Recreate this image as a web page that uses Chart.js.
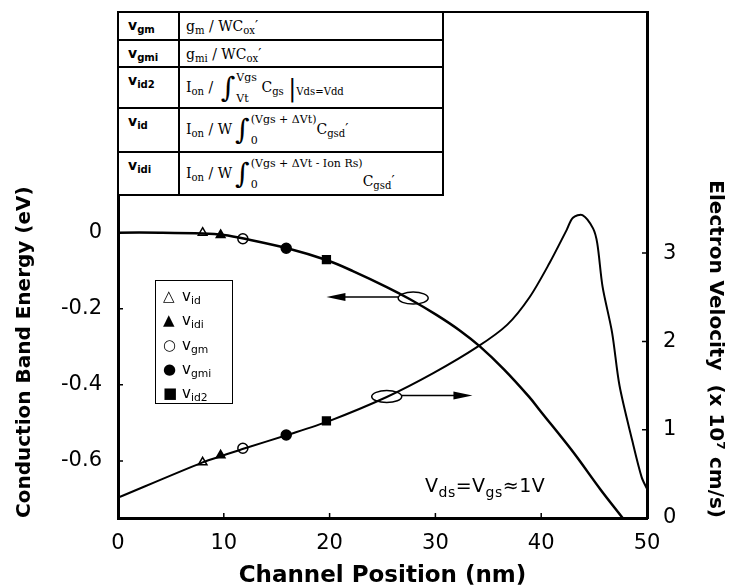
<!DOCTYPE html>
<html>
<head>
<meta charset="utf-8">
<title>Conduction band energy and electron velocity</title>
<script src="https://cdn.jsdelivr.net/npm/chart.js@4.4.1/dist/chart.umd.min.js"></script>
<style>
  html, body { margin: 0; padding: 0; background: #fff; }
  #wrap { position: relative; width: 733px; height: 588px; overflow: hidden; }
  #wrap canvas { position: absolute; left: 0; top: 0; }

  #defs {
    position: absolute; left: 117px; top: 11px; width: 327px;
    border-collapse: collapse; table-layout: fixed; background: #fff;
  }
  #defs td { border: 2px solid #000; padding: 0; overflow: hidden; }
  #defs td.k { width: 50px; font: 600 14px "DejaVu Sans", sans-serif; vertical-align: top; padding: 4px 0 0 9px; }
  #defs td.f { font: 14px "DejaVu Serif", serif; padding-left: 6px; white-space: nowrap; }
  sub { font-size: 72%; vertical-align: -0.3em; line-height: 0; }
  .int { font: 28px "DejaVu Serif", serif; vertical-align: middle; line-height: 1; margin: 0 1px 0 3px; }
  .lim { display: inline-flex; flex-direction: column; justify-content: space-between;
         vertical-align: middle; height: 32px; font-size: 11px; line-height: 1; }
  .bar { font-size: 24px; vertical-align: middle; line-height: 1; }

  #legend {
    position: absolute; left: 155px; top: 280px; width: 78px; height: 124px;
    box-sizing: border-box; border: 1.5px solid #000; background: #fff;
    font: 15px "DejaVu Sans", sans-serif; padding: 3px 0 0 7px;
  }
  #legend div { height: 24.3px; line-height: 24px; white-space: nowrap; }
  #legend .sym { display: inline-block; width: 19px; font-size: 15px; }

  #cond { position: absolute; left: 425px; top: 476px; font: 19px "DejaVu Sans", sans-serif; line-height: 19px; white-space: nowrap; letter-spacing: 0.5px; }
  #cond sub { font-size: 14px; vertical-align: -5px; }
</style>
</head>
<body>
<div id="wrap">
  <canvas id="bandChart" width="733" height="588"></canvas>

  <table id="defs">
    <tr style="height:28px"><td class="k">v<sub>gm</sub></td><td class="f">g<sub>m</sub> / WC<sub>ox</sub>′</td></tr>
    <tr style="height:27px"><td class="k">v<sub>gmi</sub></td><td class="f">g<sub>mi</sub> / WC<sub>ox</sub>′</td></tr>
    <tr style="height:41px"><td class="k">v<sub>id2</sub></td>
      <td class="f">I<sub>on</sub> / <span class="int">∫</span><span class="lim"><span>Vgs</span><span>Vt</span></span>&nbsp;C<sub>gs</sub> <span class="bar">|</span><sub>Vds=Vdd</sub></td></tr>
    <tr style="height:44px"><td class="k">v<sub>id</sub></td>
      <td class="f">I<sub>on</sub> / W<span class="int">∫</span><span class="lim"><span>(Vgs + ΔVt)</span><span>0</span></span>C<sub>gsd</sub>′</td></tr>
    <tr style="height:43px"><td class="k">v<sub>idi</sub></td>
      <td class="f">I<sub>on</sub> / W<span class="int">∫</span><span class="lim"><span>(Vgs + ΔVt - Ion Rs)</span><span>0</span></span><span style="vertical-align:-8px">C<sub>gsd</sub>′</span></td></tr>
  </table>

  <div id="legend">
    <div><span class="sym">△</span>v<sub>id</sub></div>
    <div><span class="sym">▲</span>v<sub>idi</sub></div>
    <div><span class="sym">○</span>v<sub>gm</sub></div>
    <div><span class="sym">●</span>v<sub>gmi</sub></div>
    <div><span class="sym">■</span>v<sub>id2</sub></div>
  </div>

  <div id="cond">V<sub>ds</sub>=V<sub>gs</sub>≈1V</div>
</div>

<script>
// Conduction band energy (left axis) and electron velocity (right axis)
// along the channel.

// ---------- Data ----------

const positionEnergy = [0, 4, 8, 10, 12, 16, 19.7, 22.2, 25.4, 27.6, 30.1, 32.3, 34.2, 36.5, 38.9, 39.9, 43, 45.6, 47.7];
const energy = [0, 0, -0.002, -0.006, -0.016, -0.041, -0.072, -0.101, -0.143, -0.175, -0.216, -0.257, -0.299, -0.36, -0.433, -0.468, -0.576, -0.675, -0.75];

const positionVelocity = [0, 8, 10, 12, 16, 20, 25.4, 29.8, 34, 36.8, 38.9, 40.8, 42.4, 43, 43.9, 44.9, 45.3, 45.8, 46.7, 47.4, 48.6, 49.5, 50];
const velocity = [0.23, 0.63, 0.71, 0.79, 0.94, 1.1, 1.37, 1.64, 1.94, 2.19, 2.5, 2.89, 3.26, 3.4, 3.43, 3.28, 3.11, 2.62, 2.1, 1.5, 0.88, 0.46, 0.33];

const markerNames = ["v_id", "v_idi", "v_gm", "v_gmi", "v_id2"];
const markerPosition = [8, 9.7, 11.8, 15.9, 19.7];
const markerEnergy = [0, -0.006, -0.016, -0.041, -0.071];
const markerVelocity = [0.63, 0.71, 0.79, 0.94, 1.1];

const positionTicks = [0, 10, 20, 30, 40, 50];
const energyTicks = [0, -0.2, -0.4, -0.6];
const velocityTicks = [0, 1, 2, 3];

// ellipse on a curve + arrow pointing to its axis
const energyTag = { x: 27.9, y: -0.172, toX: 19.7 };
const velocityTag = { x: 25.4, y: 1.375, toX: 33.5 };

// ---------- Chart ----------

const markerLook = [
  { style: "triangle", fill: "#fff" },
  { style: "triangle", fill: "#000" },
  { style: "circle", fill: "#fff" },
  { style: "circle", fill: "#000" },
  { style: "rect", fill: "#000" },
];

function toPoints(xs, ys) {
  return xs.map((x, i) => ({ x, y: ys[i] }));
}

function setTicks(values) {
  return (scale) => {
    scale.ticks = values.map((v) => ({ value: v }));
  };
}

// fixed axis box sizes so the plot frame lands where the figure has it
function fixBox(size) {
  return (s) => {
    if (s.isHorizontal()) s.height = size;
    else s.width = size;
    s.paddingTop = s.paddingBottom = s.paddingLeft = s.paddingRight = 0;
  };
}

const datasets = [
  {
    label: "Conduction band energy",
    data: toPoints(positionEnergy, energy),
    yAxisID: "yE",
    borderColor: "#000",
    borderWidth: 2.5,
    pointRadius: 0,
    tension: 0.35,
  },
  {
    label: "Electron velocity",
    data: toPoints(positionVelocity, velocity),
    yAxisID: "yV",
    borderColor: "#000",
    borderWidth: 2,
    pointRadius: 0,
    tension: 0.3,
  },
];

markerNames.forEach((name, i) => {
  const look = markerLook[i];
  const common = {
    label: name,
    showLine: false,
    pointStyle: look.style,
    pointRadius: look.style === "rect" ? 5.5 : 5,
    pointBackgroundColor: look.fill,
    pointBorderColor: "#000",
    pointBorderWidth: 1.5,
  };
  datasets.push({ ...common, yAxisID: "yE", data: [{ x: markerPosition[i], y: markerEnergy[i] }] });
  datasets.push({ ...common, yAxisID: "yV", data: [{ x: markerPosition[i], y: markerVelocity[i] }] });
});

// top edge of the frame and short inward tick marks
const framePlugin = {
  id: "frame",
  afterDraw(chart) {
    const { ctx, chartArea: a, scales } = chart;
    ctx.save();
    ctx.strokeStyle = "#000";
    ctx.lineWidth = 2;
    ctx.beginPath();
    ctx.moveTo(a.left, a.top);
    ctx.lineTo(a.right, a.top);
    ctx.stroke();

    ctx.lineWidth = 1.5;
    ctx.beginPath();
    positionTicks.slice(1, -1).forEach((v) => {
      const px = scales.x.getPixelForValue(v);
      ctx.moveTo(px, a.bottom);
      ctx.lineTo(px, a.bottom - 5);
    });
    energyTicks.slice(1).forEach((v) => {
      const py = scales.yE.getPixelForValue(v);
      ctx.moveTo(a.left, py);
      ctx.lineTo(a.left + 5, py);
    });
    velocityTicks.slice(1).forEach((v) => {
      const py = scales.yV.getPixelForValue(v);
      ctx.moveTo(a.right, py);
      ctx.lineTo(a.right - 5, py);
    });
    ctx.stroke();
    ctx.restore();
  },
};

function drawTag(ctx, xScale, yScale, tag) {
  const cx = xScale.getPixelForValue(tag.x);
  const cy = yScale.getPixelForValue(tag.y);
  const tx = xScale.getPixelForValue(tag.toX);
  const dir = Math.sign(tx - cx);

  ctx.beginPath();
  ctx.ellipse(cx, cy, 15, 6, 0, 0, Math.PI * 2);
  ctx.stroke();

  ctx.beginPath();
  ctx.moveTo(cx + dir * 15, cy - 1);
  ctx.lineTo(tx - dir * 14, cy - 1);
  ctx.stroke();

  ctx.beginPath();
  ctx.moveTo(tx, cy - 1);
  ctx.lineTo(tx - dir * 19, cy - 5);
  ctx.lineTo(tx - dir * 19, cy + 3);
  ctx.closePath();
  ctx.fill();
}

const tagPlugin = {
  id: "curveTags",
  afterDatasetsDraw(chart) {
    const { ctx, scales } = chart;
    ctx.save();
    ctx.strokeStyle = "#000";
    ctx.fillStyle = "#000";
    ctx.lineWidth = 1.5;
    drawTag(ctx, scales.x, scales.yE, energyTag);
    drawTag(ctx, scales.x, scales.yV, velocityTag);
    ctx.restore();
  },
};

const tickFont = { family: '"DejaVu Sans", sans-serif', size: 21 };
const titleFont = { family: '"DejaVu Sans", sans-serif', size: 20, weight: "bold", lineHeight: 1 };

new Chart(document.getElementById("bandChart"), {
  type: "line",
  data: { datasets },
  plugins: [framePlugin, tagPlugin],
  options: {
    responsive: false,
    animation: false,
    events: [],
    layout: { padding: { top: 12, left: 0, right: 0, bottom: 0 } },
    plugins: {
      legend: { display: false },
      tooltip: { enabled: false },
    },
    scales: {
      x: {
        type: "linear",
        min: 0,
        max: 50,
        afterBuildTicks: setTicks(positionTicks),
        afterFit: fixBox(70),
        grid: { display: false, drawTicks: false },
        border: { display: true, color: "#000", width: 3 },
        ticks: { color: "#000", font: tickFont, padding: 13, maxRotation: 0 },
        title: {
          display: true,
          text: "Channel Position (nm)",
          color: "#000",
          font: { ...titleFont, size: 23 },
          padding: { top: 0, bottom: 0 },
        },
      },
      yE: {
        type: "linear",
        position: "left",
        min: -0.75,
        max: 0.58,
        afterBuildTicks: setTicks(energyTicks),
        afterFit: fixBox(118),
        grid: { display: false, drawTicks: false },
        border: { display: true, color: "#000", width: 3 },
        ticks: {
          color: "#000",
          font: tickFont,
          padding: 16,
          callback: (v) => (v === 0 ? "0" : Number(v).toFixed(1)),
        },
        title: {
          display: true,
          align: "start",
          text: "Conduction Band Energy (eV)",
          color: "#000",
          font: titleFont,
          padding: { top: 15, bottom: 0 },
        },
      },
      yV: {
        type: "linear",
        position: "right",
        min: 0,
        max: 5.73,
        afterBuildTicks: setTicks(velocityTicks),
        afterFit: fixBox(86),
        grid: { display: false, drawTicks: false },
        border: { display: true, color: "#000", width: 3 },
        ticks: { color: "#000", font: tickFont, padding: 16 },
        title: {
          display: true,
          align: "start",
          text: "Electron Velocity  (x 10⁷ cm/s)",
          color: "#000",
          font: titleFont,
          padding: { top: 8, bottom: 0 },
        },
      },
    },
  },
});
</script>
</body>
</html>
